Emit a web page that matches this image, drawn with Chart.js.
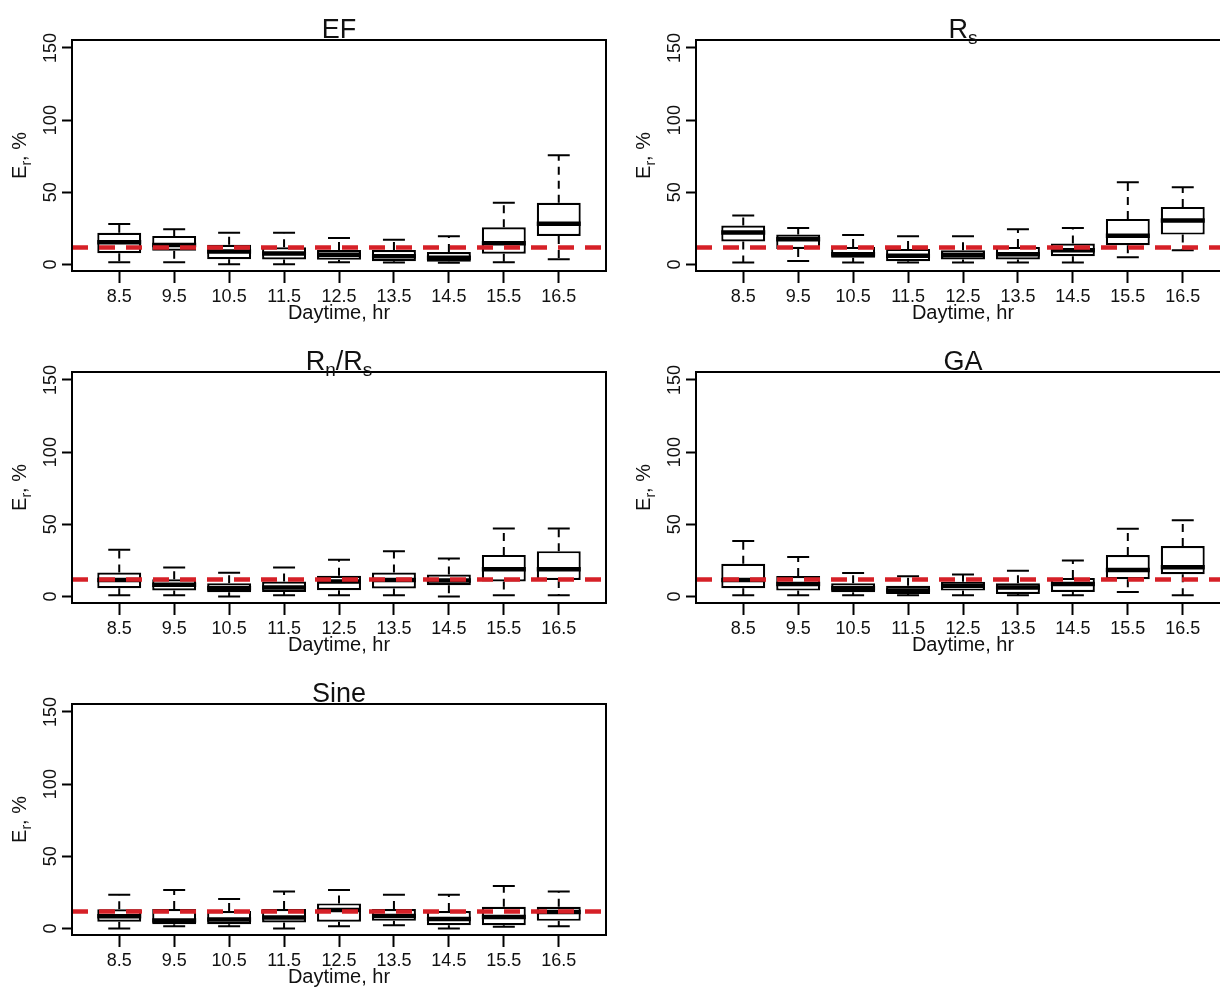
<!DOCTYPE html>
<html>
<head>
<meta charset="utf-8">
<script src="https://cdn.jsdelivr.net/npm/chart.js@4.4.1/dist/chart.umd.min.js"></script>
<style>
  html, body { margin: 0; padding: 0; background: #fff; overflow: hidden; }
  #page { position: relative; width: 1220px; height: 989px; overflow: hidden; background: #fff; }
  #page canvas { position: absolute; }
</style>
</head>
<body>
<div id="page"></div>
<script>
// ---- data -------------------------------------------------------------
const hours = [8.5, 9.5, 10.5, 11.5, 12.5, 13.5, 14.5, 15.5, 16.5];
const hourLabels = ['8.5', '9.5', '10.5', '11.5', '12.5', '13.5', '14.5', '15.5', '16.5'];
const yTicks = [0, 50, 100, 150];
const yTickLabels = ['0', '50', '100', '150'];
const refError = 11.8;   // reference relative error, %

// EF
const efLow  = [1.5, 1.5, 0.1, 0.1, 1.5, 1.4, 1.2, 1.5, 3.6];
const efQ1   = [7.8, 9.6, 3.6, 3.5, 3.3, 2.3, 1.9, 7.5, 19.8];
const efMed  = [15.4, 13.5, 9.0, 7.7, 6.8, 5.8, 4.6, 14.7, 28.3];
const efQ3   = [22.0, 19.8, 13.6, 12.0, 10.0, 10.0, 8.6, 25.8, 42.8];
const efHigh = [28.1, 24.4, 22.0, 22.0, 18.3, 17.2, 19.5, 42.8, 75.6];

// Rs
const rsLow  = [1.4, 2.5, 1.4, 1.4, 1.4, 1.4, 1.4, 5.1, 9.9];
const rsQ1   = [15.9, 10.8, 4.6, 2.3, 3.5, 3.5, 5.8, 13.4, 20.7];
const rsMed  = [22.1, 17.5, 7.1, 6.0, 6.5, 7.1, 9.9, 20.0, 30.4];
const rsQ3   = [27.0, 20.7, 12.2, 10.8, 9.9, 12.2, 14.5, 31.6, 39.9];
const rsHigh = [33.9, 25.3, 20.5, 19.6, 19.6, 24.4, 25.3, 56.9, 53.5];

// Rn/Rs
const rnLow  = [0.9, 0.9, 0.0, 0.9, 0.9, 0.9, 0.0, 0.9, 0.9];
const rnQ1   = [5.8, 4.2, 3.0, 3.2, 4.4, 5.5, 7.8, 10.4, 11.5];
const rnMed  = [11.5, 8.1, 5.8, 6.2, 10.4, 11.5, 11.1, 18.9, 18.9];
const rnQ3   = [16.6, 12.0, 9.2, 10.4, 14.3, 16.6, 15.2, 28.8, 31.4];
const rnHigh = [32.3, 20.1, 16.4, 20.1, 25.4, 31.4, 26.3, 47.1, 47.1];

// GA
const gaLow  = [0.9, 0.9, 0.9, 0.9, 0.9, 0.9, 0.9, 3.2, 0.9];
const gaQ1   = [5.7, 4.1, 3.0, 1.8, 4.1, 1.8, 3.2, 11.9, 15.4];
const gaMed  = [11.5, 8.7, 5.7, 4.1, 7.4, 6.2, 8.7, 18.4, 20.2];
const gaQ3   = [22.7, 14.2, 9.2, 7.4, 10.3, 9.2, 12.9, 28.7, 34.9];
const gaHigh = [38.4, 27.3, 16.3, 14.0, 15.2, 17.9, 25.0, 46.9, 52.8];

// Sine
const snLow  = [0.0, 1.6, 1.6, 0.0, 1.6, 2.3, 0.0, 1.2, 1.6];
const snQ1   = [4.7, 3.0, 3.0, 4.2, 4.7, 5.3, 2.3, 2.3, 5.3];
const snMed  = [8.5, 5.5, 6.3, 7.7, 12.8, 8.6, 6.5, 8.0, 11.4];
const snQ3   = [13.3, 13.5, 12.1, 13.5, 17.4, 13.5, 12.1, 15.1, 15.1];
const snHigh = [23.3, 26.7, 20.5, 25.6, 26.7, 23.3, 23.3, 29.5, 25.6];

// ---- layout -------------------------------------------------------------
const FONT = '"Liberation Sans", Arial, Helvetica, sans-serif';
const CANVAS_W = 620, CANVAS_H = 330;
const Y_AXIS_W = 72, X_AXIS_H = 59, PAD_TOP = 40, PAD_RIGHT = 14;
const X_MIN = 7.64, X_MAX = 17.36;
const Y_MIN = -4.5, Y_MAX = 155.5;
const RED = '#d62027';
const INK = '#111';

const panels = [
  { title: [{ t: 'EF' }],                                             low: efLow, q1: efQ1, med: efMed, q3: efQ3, high: efHigh, left: 0,   top: 0 },
  { title: [{ t: 'R' }, { t: 's', sub: true }],                       low: rsLow, q1: rsQ1, med: rsMed, q3: rsQ3, high: rsHigh, left: 624, top: 0 },
  { title: [{ t: 'R' }, { t: 'n', sub: true }, { t: '/R' }, { t: 's', sub: true }],
                                                                      low: rnLow, q1: rnQ1, med: rnMed, q3: rnQ3, high: rnHigh, left: 0,   top: 332 },
  { title: [{ t: 'GA' }],                                             low: gaLow, q1: gaQ1, med: gaMed, q3: gaQ3, high: gaHigh, left: 624, top: 332 },
  { title: [{ t: 'Sine' }],                                           low: snLow, q1: snQ1, med: snMed, q3: snQ3, high: snHigh, left: 0,   top: 664 }
];

const yAxisTitle = [{ t: 'E' }, { t: 'r', sub: true }, { t: ', %' }];

// Draws text made of normal and subscript runs, centred on the origin.
function drawRich(ctx, parts, size) {
  const subSize = Math.round(size * 0.72);
  const widths = parts.map(p => {
    ctx.font = `${p.sub ? subSize : size}px ${FONT}`;
    return ctx.measureText(p.t).width;
  });
  const total = widths.reduce((a, b) => a + b, 0);
  let x = -total / 2;
  ctx.textAlign = 'left';
  ctx.textBaseline = 'alphabetic';
  parts.forEach((p, i) => {
    ctx.font = `${p.sub ? subSize : size}px ${FONT}`;
    const base = size * 0.36 + (p.sub ? size * 0.24 : 0);
    ctx.fillText(p.t, x, base);
    x += widths[i];
  });
}

function makeBoxPlugin(panel) {
  return {
    id: 'boxWhiskers',
    // whiskers, staples and medians go right after the boxes, under the reference line
    afterDatasetDraw(chart, args) {
      if (args.meta.type !== 'bar') return;
      const { ctx } = chart;
      const xs = chart.scales.x, ys = chart.scales.y;
      const bars = args.meta.data;
      ctx.save();
      ctx.strokeStyle = '#000';
      ctx.lineCap = 'butt';
      hours.forEach((h, i) => {
        const cx = xs.getPixelForValue(h);
        const half = bars[i].width / 2;
        const cap = half * 0.5;
        const yLow = ys.getPixelForValue(panel.low[i]);
        const yQ1 = ys.getPixelForValue(panel.q1[i]);
        const yMed = ys.getPixelForValue(panel.med[i]);
        const yQ3 = ys.getPixelForValue(panel.q3[i]);
        const yHigh = ys.getPixelForValue(panel.high[i]);
        // dashed whiskers
        ctx.setLineDash([8, 6]);
        ctx.lineWidth = 2;
        ctx.beginPath();
        ctx.moveTo(cx, yQ3); ctx.lineTo(cx, yHigh);
        ctx.moveTo(cx, yQ1); ctx.lineTo(cx, yLow);
        ctx.stroke();
        // staples
        ctx.setLineDash([]);
        ctx.lineWidth = 2;
        ctx.beginPath();
        ctx.moveTo(cx - cap, yHigh); ctx.lineTo(cx + cap, yHigh);
        ctx.moveTo(cx - cap, yLow); ctx.lineTo(cx + cap, yLow);
        ctx.stroke();
        // median
        ctx.lineWidth = 4.5;
        ctx.beginPath();
        ctx.moveTo(cx - half, yMed); ctx.lineTo(cx + half, yMed);
        ctx.stroke();
      });
      ctx.restore();
    },
    afterDraw(chart) {
      const { ctx, chartArea: a } = chart;
      const ys = chart.scales.y;
      ctx.save();
      // plot frame
      ctx.strokeStyle = '#000';
      ctx.lineWidth = 2;
      ctx.setLineDash([]);
      ctx.strokeRect(a.left, a.top, a.right - a.left, a.bottom - a.top);
      ctx.fillStyle = INK;
      // panel title
      ctx.save();
      ctx.translate((a.left + a.right) / 2, a.top - 12);
      drawRich(ctx, panel.title, 27);
      ctx.restore();
      // y tick labels, parallel to the axis
      ctx.font = `18px ${FONT}`;
      ys.ticks.forEach((t, i) => {
        const y = ys.getPixelForValue(t.value);
        ctx.save();
        ctx.translate(a.left - 21, y);
        ctx.rotate(-Math.PI / 2);
        ctx.textAlign = 'center';
        ctx.textBaseline = 'middle';
        ctx.fillText(yTickLabels[i], 0, 0);
        ctx.restore();
      });
      // y axis title
      ctx.save();
      ctx.translate(a.left - 53, (a.top + a.bottom) / 2);
      ctx.rotate(-Math.PI / 2);
      drawRich(ctx, yAxisTitle, 20);
      ctx.restore();
      ctx.restore();
    }
  };
}

const page = document.getElementById('page');

panels.forEach(panel => {
  const canvas = document.createElement('canvas');
  canvas.width = CANVAS_W;
  canvas.height = CANVAS_H;
  canvas.style.left = panel.left + 'px';
  canvas.style.top = panel.top + 'px';
  canvas.style.width = CANVAS_W + 'px';
  canvas.style.height = CANVAS_H + 'px';
  page.appendChild(canvas);

  new Chart(canvas, {
    type: 'bar',
    data: {
      datasets: [
        {
          type: 'bar',
          label: 'box',
          data: hours.map((h, i) => ({ x: h, y: [panel.q1[i], panel.q3[i]] })),
          backgroundColor: '#fff',
          borderColor: '#000',
          borderWidth: 2.2,
          borderSkipped: false,
          barPercentage: 0.8,
          categoryPercentage: 1,
          order: 2
        },
        {
          type: 'line',
          label: 'reference',
          data: [{ x: X_MIN, y: refError }, { x: X_MAX, y: refError }],
          borderColor: RED,
          borderWidth: 4.5,
          borderDash: [16, 11],
          pointRadius: 0,
          fill: false,
          order: 1
        }
      ]
    },
    options: {
      responsive: false,
      animation: false,
      devicePixelRatio: 1,
      layout: { padding: { left: 0, right: PAD_RIGHT, top: PAD_TOP, bottom: 0 } },
      plugins: { legend: { display: false }, tooltip: { enabled: false }, title: { display: false } },
      scales: {
        x: {
          type: 'linear',
          min: X_MIN,
          max: X_MAX,
          offset: false,
          afterBuildTicks: s => { s.ticks = hours.map(v => ({ value: v })); },
          afterFit: s => { s.height = X_AXIS_H; },
          grid: { display: true, offset: false, drawOnChartArea: false, drawTicks: true, tickLength: 12, tickWidth: 2, tickColor: '#000' },
          border: { display: false },
          ticks: {
            autoSkip: false, maxRotation: 0, minRotation: 0, padding: 3,
            color: INK, font: { family: FONT, size: 18 },
            callback: (v, i) => hourLabels[i]
          },
          title: { display: true, text: 'Daytime, hr', color: INK, font: { family: FONT, size: 20 }, padding: { top: 0, bottom: 5 } }
        },
        y: {
          type: 'linear',
          min: Y_MIN,
          max: Y_MAX,
          afterBuildTicks: s => { s.ticks = yTicks.map(v => ({ value: v })); },
          afterFit: s => { s.width = Y_AXIS_W; },
          grid: { display: true, drawOnChartArea: false, drawTicks: true, tickLength: 10, tickWidth: 2, tickColor: '#000' },
          border: { display: false },
          ticks: { display: false }
        }
      }
    },
    plugins: [makeBoxPlugin(panel)]
  });
});
</script>
</body>
</html>
